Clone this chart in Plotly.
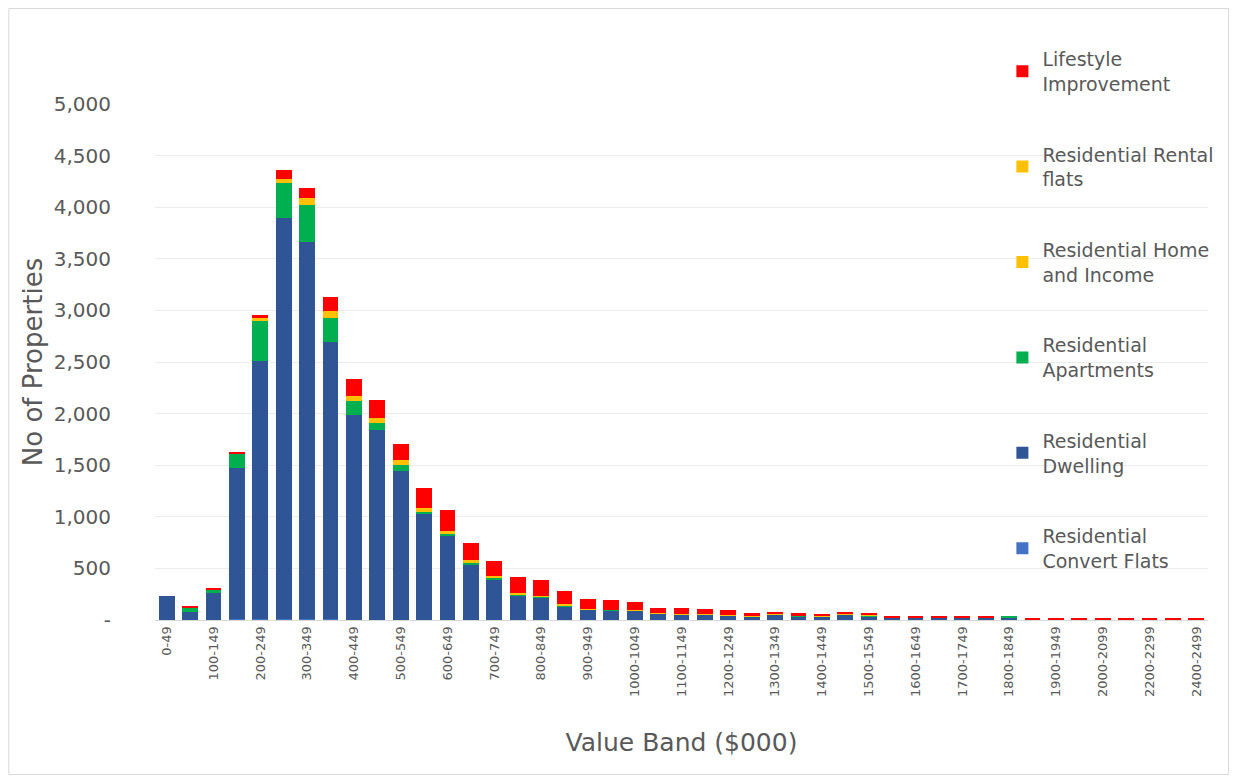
import plotly.graph_objects as go

categories = [f"{a}-{a+49}" for a in range(0, 2000, 50)] + [
    "2000-2099", "2100-2199", "2200-2299", "2300-2399", "2400-2499"]

convert_flats = [0, 0, 0, 5, 8, 10, 8, 5, 3, 2, 2, 1, 1, 0, 0, 0, 0, 0, 0, 0,
                 0, 0, 0, 0, 0, 0, 0, 0, 0, 0, 0, 0, 0, 0, 0, 0, 0, 0, 0, 0,
                 0, 0, 0, 0, 0]
dwelling = [230, 80, 265, 1465, 2502, 3890, 3652, 2685, 1987, 1843, 1443, 1029, 814, 540, 395, 240, 220, 135, 100, 95,
            90, 60, 55, 55, 45, 35, 50, 38, 30, 55, 33, 22, 22, 22, 22, 20, 15, 0, 0, 0,
            0, 0, 0, 0, 0]
apartments = [0, 40, 35, 140, 390, 335, 360, 235, 130, 65, 55, 25, 20, 15, 12, 10, 8, 8, 5, 3,
              3, 2, 2, 2, 2, 2, 5, 2, 2, 2, 10, 2, 2, 2, 2, 2, 20, 0, 0, 0,
              0, 0, 0, 0, 0]
home_income = [0, 0, 0, 0, 15, 20, 35, 35, 30, 25, 25, 18, 12, 15, 10, 8, 3, 8, 3, 2,
               3, 1, 2, 3, 1, 1, 5, 1, 1, 1, 8, 0, 0, 0, 0, 0, 0, 0, 0, 0,
               0, 0, 0, 0, 0]
rental_flats = [0, 0, 0, 0, 15, 20, 35, 35, 25, 25, 25, 17, 13, 15, 10, 7, 2, 7, 2, 1,
                2, 1, 2, 2, 1, 1, 5, 1, 1, 1, 7, 0, 0, 0, 0, 0, 0, 0, 0, 0,
                0, 0, 0, 0, 0]
lifestyle = [0, 10, 7, 10, 30, 85, 95, 135, 160, 175, 160, 185, 205, 160, 145, 155, 155, 120, 95, 90,
             80, 55, 55, 40, 45, 30, 15, 25, 22, 10, 10, 18, 18, 18, 18, 15, 0, 12, 12, 12,
             12, 12, 12, 12, 12]

series = [
    ("Residential<br>Convert Flats", convert_flats, "#4472C4"),
    ("Residential<br>Dwelling", dwelling, "#2F5597"),
    ("Residential<br>Apartments", apartments, "#00B050"),
    ("Residential Home<br>and Income", home_income, "#FFC000"),
    ("Residential Rental<br>flats", rental_flats, "#FFC000"),
    ("Lifestyle<br>Improvement", lifestyle, "#FF0000"),
]

y_ticks = [0, 500, 1000, 1500, 2000, 2500, 3000, 3500, 4000, 4500, 5000]
y_tick_text = ["-", "500", "1,000", "1,500", "2,000", "2,500", "3,000", "3,500", "4,000", "4,500", "5,000"]

fig = go.Figure()
n = len(series)
for i, (name, vals, col) in enumerate(series):
    fig.add_trace(go.Bar(x=categories, y=vals, name=name, marker_color=col,
                         marker_line_width=0, legendgroup=f"g{i}", legendrank=n - i))

FONT = "DejaVu Sans, sans-serif"
GREY = "#595959"
OFF = 8  # page offset of the figure
W, H = 1239 - 2 * OFF, 783 - 2 * OFF
L, T = 155 - OFF, 104 - OFF
R = W - (1210 - OFF)
B = H - (620 - OFF)
pw, ph = W - L - R, H - T - B

def px(x):
    return (x - OFF - L) / pw

def py(y):
    return (H - B - (y - OFF)) / ph

fig.update_layout(
    width=W, height=H,
    barmode="stack", bargap=0.33,
    margin=dict(l=L, r=R, t=T, b=B),
    paper_bgcolor="white", plot_bgcolor="white",
    font=dict(family=FONT, color=GREY),
    legend=dict(traceorder="grouped", x=px(1004), y=py(40), xanchor="left", yanchor="top",
                font=dict(size=19, color=GREY, family=FONT), tracegroupgap=43,
                bgcolor="rgba(0,0,0,0)", itemwidth=30, maxheight=740),
    xaxis=dict(type="category", tickvals=categories[0::2], tickangle=-90,
               tickfont=dict(size=13, color=GREY), showgrid=False,
               showline=True, linecolor="#d9d9d9", ticks="",
               title=dict(text="Value Band ($000)", font=dict(size=25, color=GREY), standoff=37)),
    yaxis=dict(range=[0, 5000], tickvals=y_ticks, ticktext=y_tick_text,
               tickfont=dict(size=20, color=GREY), gridcolor="#ececec",
               zeroline=False, ticks="", ticklabelstandoff=43,
               title=dict(text="No of Properties", font=dict(size=26, color=GREY), standoff=3)),
    shapes=[dict(type="rect", xref="paper", yref="paper",
                 x0=px(OFF + 0.5), x1=px(OFF + W - 0.5),
                 y0=py(OFF + H - 0.5), y1=py(OFF + 0.5),
                 line=dict(color="#d9d9d9", width=1), layer="below")],
)

fig.write_html("out.html")
